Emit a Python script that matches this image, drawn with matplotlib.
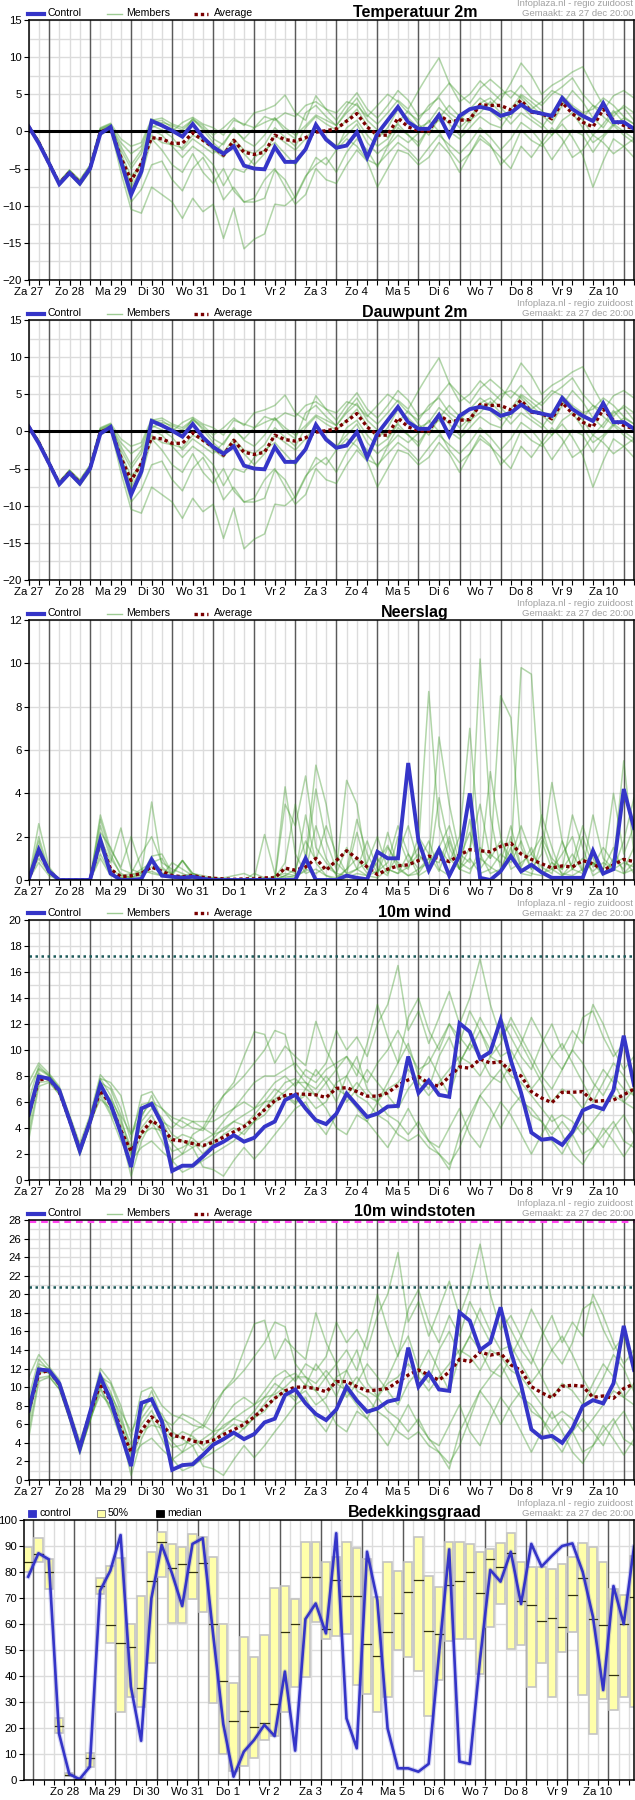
import numpy as np
import matplotlib
matplotlib.use('Agg')
import matplotlib.pyplot as plt
from matplotlib.lines import Line2D
from matplotlib.patches import Rectangle

plt.rcParams['font.family'] = ['Liberation Sans', 'DejaVu Sans']

W, H = 635, 1800

# ---- time axis (6-hourly steps, hours since 27 dec 00:00) ----
hours = 12 + 6 * np.arange(60)
day_labels = ['Za 27', 'Zo 28', 'Ma 29', 'Di 30', 'Wo 31', 'Do 1', 'Vr 2', 'Za 3',
              'Zo 4', 'Ma 5', 'Di 6', 'Wo 7', 'Do 8', 'Vr 9', 'Za 10']

# ---- Temperatuur 2m ----
temp_control = [0.7, -1.6, -4.3, -7.1, -5.6, -7.0, -5.0, -0.3, 0.6, -4.0, -8.5, -5.4, 1.4, 0.8, 0.1,
                -0.7, 1.0, -0.8, -2.1, -3.0, -2.0, -4.6, -5.0, -5.1, -2.1, -4.1, -4.1, -2.4, 0.9, -1.1,
                -2.2, -1.9, -0.1, -3.5, -0.3, 1.5, 3.3, 1.25, 0.35, 0.35, 2.2, -0.6, 2.1, 3.0, 3.3,
                3.0, 2.1, 2.5, 3.6, 2.7, 2.4, 2.1, 4.5, 3.0, 2.1, 1.4, 3.8, 1.25, 1.25, 0.35]
temp_average = [0.7, -1.5, -4.3, -7.0, -5.5, -6.9, -5.0, -0.1, 0.5, -3.5, -6.6, -4.3, -0.85, -1.0, -1.6,
                -1.6, -0.2, -1.2, -2.1, -3.2, -1.2, -2.8, -3.1, -2.8, -0.5, -1.1, -1.3, -0.85, -0.1, 0.1,
                0.35, 1.4, 2.4, 0.6, -0.5, -0.5, 1.8, 0.6, 0.1, 0.05, 2.2, 1.3, 1.5, 1.6, 3.6,
                3.5, 3.5, 2.9, 4.2, 2.6, 2.4, 1.7, 3.9, 2.4, 1.25, 0.6, 3.0, 1.5, 0.8, 0.35]
temp_members = [
    [0.8, -1.2, -4.2, -6.8, -5.3, -6.6, -4.6, 0.3, 0.9, -2.5, -5.0, -3.0, 0.5, 1.2, 0.8, 0.2, 1.5, 0.5, -1.0, -1.8, 0.5, -1.2, -2.0, -0.5, 1.8, 0.5, -0.5, 0.8, 2.2, 1.5, 0.8, 2.5, 3.8, 1.5, 0.2, -0.8, 1.2, 2.8, 1.0, -0.5, 1.8, 3.5, 2.0, 1.2, 3.8, 4.5, 3.2, 1.8, 4.8, 3.5, 2.2, 1.0, 3.5, 5.5, 4.0, 1.8, 0.5, 2.5, 3.2, 1.5],
    [0.6, -1.6, -4.5, -7.3, -5.8, -7.2, -5.3, -0.4, 0.5, -4.5, -9.5, -7.8, -4.5, -4.0, -6.5, -8.0, -5.0, -3.5, -5.8, -9.2, -7.5, -9.5, -9.5, -9.0, -5.2, -6.5, -9.0, -6.2, -3.5, -4.5, -2.5, -1.0, -2.0, -3.8, -4.5, -3.0, -1.5, -2.5, -4.0, -2.2, -0.5, -1.8, -3.0, -1.5, 0.5, -0.8, -2.5, -1.0, 1.2, 0.2, -1.5, -3.8, -1.8, 0.2, -0.5, -2.8, -0.8, 0.8, -0.5, -1.5],
    [0.7, -1.4, -4.3, -7.0, -5.5, -7.0, -5.2, -0.2, 0.4, -5.5, -10.5, -11.0, -7.5, -8.5, -9.5, -11.7, -9.0, -10.8, -9.8, -14.4, -10.3, -15.8, -14.5, -13.8, -9.8, -10.0, -8.8, -6.0, -4.5, -3.5, -5.5, -2.8, -1.0, -2.5, -4.8, -2.0, -0.5, -1.5, -0.2, 1.5, 0.0, -2.5, -4.2, -3.0, -0.5, -1.8, -4.5, -3.0, 0.2, -1.2, -2.0, -0.5, 1.0, -0.8, -3.2, -7.5, -4.0, -1.0, -2.0, -3.5],
    [0.8, -1.3, -4.0, -6.9, -5.2, -6.8, -4.8, 0.2, 0.8, -1.5, -3.0, -2.0, 1.5, 1.8, 1.0, 0.5, 1.6, 0.8, -0.5, 0.5, 1.8, 0.8, 2.5, 2.9, 3.5, 4.9, 2.5, 1.5, 4.8, 3.0, 1.5, 3.5, 5.2, 3.0, 1.8, 3.5, 5.5, 4.2, 2.0, 3.0, 4.8, 6.5, 5.0, 3.8, 5.8, 7.0, 5.8, 4.5, 6.2, 4.5, 3.5, 5.0, 6.0, 7.2, 5.0, 3.5, 2.8, 4.8, 5.5, 4.5],
    [0.7, -1.5, -4.4, -7.1, -5.6, -7.1, -5.1, 0.0, 0.6, -3.0, -6.0, -4.5, 0.8, 0.2, -0.8, -2.5, -1.0, -2.0, -3.0, -1.5, 0.2, -1.0, 0.5, 1.2, 1.8, 0.0, -1.0, 2.5, 3.5, 2.0, 0.8, 2.8, 4.5, 2.2, 1.0, 2.5, 4.2, 3.0, 5.5, 7.8, 9.9, 6.5, 4.0, 5.0, 6.8, 5.5, 4.2, 6.5, 9.2, 7.5, 5.0, 6.2, 7.0, 8.0, 8.7, 6.0, 3.5, 2.0, 3.5, 2.5],
    [0.7, -1.5, -4.3, -7.2, -5.6, -7.3, -5.4, -0.5, 0.3, -4.0, -8.0, -6.0, -1.0, -2.5, -4.5, -5.5, -3.0, -5.5, -7.0, -5.0, -8.0, -9.5, -9.0, -6.5, -5.0, -7.5, -9.8, -8.5, -5.0, -6.5, -7.0, -4.5, -2.5, -4.0, -7.5, -5.0, -2.5, -3.0, -4.5, -3.5, -1.5, -3.0, -5.5, -3.0, -1.0, -2.0, -3.5, -5.0, -2.0, -3.5, -1.5, 0.5, -1.0, -3.5, -2.5, -0.5, -1.5, -3.0, -2.0, -1.0],
    [0.8, -1.3, -4.1, -6.9, -5.4, -6.9, -5.0, 0.1, 0.7, -2.0, -4.5, -2.5, 1.2, 1.5, 0.5, -0.5, 1.8, 0.2, -1.5, -2.8, -1.0, -2.5, -3.0, -1.8, 0.5, -0.8, -2.0, 0.5, 2.0, 1.0, 0.2, 1.5, 3.0, 0.8, -1.0, 0.5, 3.0, 1.8, 0.5, 1.2, 3.2, 2.0, 0.5, 1.8, 3.8, 2.8, 1.5, 3.0, 5.0, 4.0, 2.8, 1.5, 4.0, 3.0, 1.8, 3.5, 2.0, 0.8, 1.8, 1.0],
    [0.7, -1.4, -4.2, -7.0, -5.4, -7.0, -4.9, 0.4, 1.0, -3.5, -7.5, -5.0, 0.2, -0.5, -2.0, -3.5, -2.0, -3.0, -4.5, -7.3, -5.0, -5.5, -3.5, -2.5, -1.5, -3.0, -4.5, -2.5, 0.5, -1.0, -2.5, 0.5, 1.5, -0.5, -2.0, -1.0, 1.0, -0.5, -2.0, 0.5, 2.5, 1.0, -0.5, 1.5, 2.5, 4.0, 2.5, 1.0, 2.5, 1.5, 0.5, 2.5, 4.5, 3.0, 1.5, -0.5, 1.0, 2.8, 1.2, 0.5],
    [0.8, -1.2, -4.1, -6.7, -5.2, -6.5, -4.5, 0.5, 1.1, -1.0, -2.0, -1.5, 1.7, 1.0, 0.0, 1.2, 1.9, 1.0, 0.5, -0.5, 1.5, 1.0, 0.5, 2.0, 1.5, 2.5, 2.0, 3.5, 4.0, 3.0, 2.5, 4.0, 3.5, 2.0, 3.5, 5.0, 4.0, 2.5, 1.5, 3.5, 4.5, 2.5, 1.5, 3.0, 4.5, 3.5, 5.0, 5.5, 4.5, 3.0, 4.0, 5.5, 4.8, 3.5, 2.5, 3.0, 4.5, 3.5, 2.0, 1.0],
    [0.7, -1.5, -4.4, -7.1, -5.6, -7.0, -5.1, -0.1, 0.5, -3.5, -7.0, -4.0, -0.5, -1.5, -1.8, -2.2, -0.5, -1.2, -2.5, -3.5, -1.5, -3.0, -4.5, -3.0, -0.5, -1.5, -2.5, -1.0, 0.8, -0.8, -2.0, -0.5, 1.0, -1.5, -3.0, -1.8, 0.5, -0.5, -1.5, 0.5, 1.5, 0.0, -1.0, 0.5, 2.0, 1.0, 0.5, 2.5, 3.5, 2.0, 1.0, -0.5, 1.5, 2.5, 0.5, -1.5, -0.5, 1.0, 0.0, -1.0],
]

# ---- Dauwpunt 2m (reads the same as the temperature plot) ----
dauw_control = list(temp_control)
dauw_average = list(temp_average)
dauw_members = [list(m) for m in temp_members]

# ---- Neerslag ----
rain_control = [0, 1.4, 0.4, 0, 0, 0, 0, 1.85, 0.3, 0, 0, 0.05, 0.95, 0.2, 0.15, 0.1, 0.15, 0.05, 0, 0,
                0, 0, 0, 0, 0, 0, 0, 1.0, 0, 0, 0, 0.2, 0.1, 0.03, 1.3, 1.0, 1.0, 5.4, 1.8, 0.45,
                1.4, 0.2, 1.15, 4.0, 0.1, 0, 0.4, 1.1, 0.4, 0.7, 0.35, 0.1, 0.1, 0.1, 0.1, 1.35, 0.3, 0.5, 4.2, 2.4]
rain_average = [0, 1.35, 0.4, 0, 0, 0, 0, 1.8, 0.5, 0.15, 0.2, 0.3, 0.6, 0.4, 0.2, 0.15, 0.2, 0.12, 0.08, 0.05,
                0.03, 0.05, 0.05, 0.1, 0.1, 0.55, 0.45, 0.6, 1.0, 0.45, 0.9, 1.35, 1.0, 0.6, 0.25, 0.5, 0.65, 0.7, 0.9, 1.1,
                1.0, 0.85, 1.15, 1.4, 1.35, 1.3, 1.55, 1.7, 1.2, 0.95, 0.75, 0.55, 0.65, 0.6, 0.9, 0.75, 0.45, 0.7, 0.95, 0.85]
rain_members = [
    [0, 1.2, 0.5, 0, 0, 0, 0, 1.5, 0.5, 0.2, 0.1, 0.4, 0.6, 0.3, 0.2, 0.1, 0.1, 0.1, 0.1, 0, 0, 0, 0, 0, 0, 0.2, 0.5, 1.8, 0.9, 2.5, 1.2, 0.3, 0.5, 1.8, 0.5, 0.2, 2.0, 0.8, 1.5, 8.7, 2.5, 1.0, 0.5, 2.8, 0.5, 1.2, 0.8, 2.5, 0.6, 1.5, 0.3, 0.5, 1.2, 2.0, 0.4, 0.8, 0.2, 1.0, 0.5, 1.5],
    [0, 1.8, 0.3, 0, 0, 0, 0, 2.5, 1.0, 0.3, 0.1, 0.2, 0.8, 0.5, 0.3, 0.9, 0.2, 0, 0, 0, 0, 0, 0, 0.1, 0, 4.3, 1.2, 0.3, 0.5, 0.2, 0, 0.5, 2.8, 1.2, 0.3, 2.2, 0.6, 0.2, 0.5, 1.0, 6.6, 3.5, 1.2, 0.8, 10.2, 3.0, 0.5, 1.5, 0.3, 0.2, 1.8, 0.5, 0.2, 0.8, 2.5, 1.0, 0.3, 0.8, 5.5, 1.2],
    [0, 1.5, 0.4, 0, 0, 0, 0, 2.0, 0.8, 2.4, 0.5, 0.3, 3.6, 0.6, 0.2, 0.2, 0.1, 0, 0, 0, 0, 0, 0.3, 0.1, 0, 3.5, 2.5, 4.8, 1.5, 0.8, 0.3, 1.5, 0.5, 0.2, 0.4, 0.8, 2.5, 1.2, 0.2, 0.5, 1.5, 0.8, 2.0, 7.0, 1.2, 0.3, 0.5, 1.0, 9.8, 9.5, 2.5, 0.8, 0.3, 0.2, 0.5, 3.0, 1.0, 0.5, 0.3, 0.8],
    [0, 2.6, 0.6, 0, 0, 0, 0, 3.0, 1.4, 0.6, 2.0, 0.5, 0.8, 1.0, 0.2, 0.9, 0.3, 0.1, 0, 0, 0, 0, 0, 0, 0.1, 0.8, 3.5, 1.0, 5.3, 3.5, 0.8, 0.3, 2.2, 0.5, 0.3, 1.5, 0.8, 0.5, 2.0, 1.2, 0.4, 1.8, 0.5, 1.5, 3.5, 1.0, 8.5, 7.5, 1.5, 0.5, 1.2, 4.5, 1.8, 0.5, 2.0, 0.6, 1.5, 0.8, 1.0, 0.3],
    [0, 1.0, 0.3, 0, 0, 0, 0, 1.2, 0.3, 0.1, 0.2, 0.5, 0.3, 0.2, 0.1, 0.2, 0.3, 0.2, 0.1, 0.1, 0.2, 0.3, 0.1, 2.1, 0.3, 0.1, 0.2, 0.8, 4.2, 1.8, 0.5, 4.6, 3.5, 0.5, 1.0, 0.3, 1.2, 2.5, 0.8, 1.8, 0.5, 0.2, 1.0, 2.2, 0.6, 5.0, 2.0, 0.5, 0.8, 1.2, 2.0, 1.0, 0.5, 3.0, 1.5, 0.2, 0.5, 4.0, 1.2, 2.5],
    [0, 0.8, 0.2, 0, 0, 0, 0, 1.0, 0.2, 0.1, 0.1, 0.3, 0.4, 0.2, 0.8, 0.5, 0.2, 0.1, 0, 0, 0, 0, 0, 0, 0, 0.5, 0.3, 3.0, 0.8, 0.2, 0.1, 0.5, 1.0, 0.3, 0.8, 1.6, 0.5, 0.2, 0.3, 1.0, 0.8, 2.0, 0.5, 0.3, 1.5, 1.0, 1.8, 1.0, 2.5, 1.2, 0.6, 0.3, 1.8, 0.5, 0.3, 0.8, 0.5, 1.5, 0.3, 0.5],
    [0, 1.4, 0.5, 0, 0, 0, 0, 2.2, 1.5, 0.5, 0.3, 1.2, 2.0, 0.8, 0.5, 0.3, 0.1, 0, 0, 0, 0, 0, 0, 0, 0.2, 0.3, 0.2, 0.4, 2.5, 1.0, 0.2, 0.1, 0.3, 0.2, 0.1, 0.5, 0.3, 0.6, 1.2, 0.5, 3.8, 1.5, 0.5, 1.0, 0.3, 0.5, 1.2, 0.8, 1.8, 0.5, 3.0, 1.5, 0.2, 0.5, 1.0, 0.4, 0.8, 0.5, 1.8, 3.8],
    [0, 2.0, 0.4, 0, 0, 0, 0, 2.8, 1.2, 0.2, 0.3, 0.2, 1.1, 1.2, 0.3, 0.9, 0.3, 0.1, 0, 0, 0, 0, 0, 0, 0, 0.2, 0.1, 0.5, 0.3, 0.6, 0.3, 0.2, 0.5, 0.8, 2.0, 0.5, 0.3, 1.2, 0.5, 0.8, 1.5, 2.5, 0.8, 0.5, 1.0, 0.6, 0.3, 2.0, 0.5, 0.3, 0.2, 0.8, 0.5, 1.2, 0.4, 0.8, 0.3, 0.5, 0.8, 0.6],
]

# ---- 10m wind ----
wind_control = [5.0, 7.95, 7.8, 6.9, 4.6, 2.25, 4.5, 7.35, 5.85, 3.6, 1.0, 5.5, 5.85, 4.3, 0.7, 1.1, 1.1, 1.8, 2.55, 2.95,
                3.45, 2.95, 3.25, 4.1, 4.5, 6.15, 6.55, 5.5, 4.6, 4.3, 5.1, 6.65, 5.75, 4.85, 5.1, 5.65, 5.7, 9.5, 6.7, 7.65,
                6.55, 6.4, 12.05, 11.4, 9.35, 9.85, 12.3, 9.2, 6.7, 3.65, 3.1, 3.2, 2.7, 3.7, 5.35, 5.7, 5.45, 6.9, 11.1, 7.3]
wind_average = [5.0, 7.7, 7.8, 6.8, 4.6, 2.3, 4.5, 6.9, 5.8, 3.8, 2.2, 3.6, 4.6, 4.0, 3.1, 3.0, 2.8, 2.65, 2.9, 3.3,
                3.7, 4.1, 4.7, 5.4, 6.1, 6.5, 6.6, 6.6, 6.55, 6.35, 7.05, 7.1, 6.8, 6.45, 6.45, 6.7, 7.3, 7.7, 7.95, 7.45,
                7.2, 7.95, 8.7, 8.6, 9.3, 9.0, 9.1, 8.35, 8.0, 6.8, 6.3, 5.95, 6.75, 6.75, 6.8, 6.05, 6.1, 6.15, 6.55, 7.0]
wind_members = [
    [4.0, 8.5, 8.0, 7.0, 4.8, 2.5, 4.6, 7.8, 6.5, 4.5, 2.5, 4.0, 5.0, 3.5, 2.2, 2.5, 3.0, 2.0, 2.8, 3.5, 4.0, 3.5, 4.5, 5.5, 6.5, 7.5, 7.8, 7.0, 8.5, 7.5, 6.0, 8.0, 9.5, 7.0, 6.0, 7.5, 9.0, 10.5, 8.0, 7.0, 9.5, 11.0, 9.0, 10.5, 12.5, 11.0, 9.5, 10.0, 8.5, 7.0, 8.0, 9.5, 10.5, 9.0, 7.5, 6.0, 7.5, 9.0, 8.0, 6.5],
    [3.5, 7.5, 7.6, 6.6, 4.4, 2.1, 4.2, 6.5, 5.0, 3.0, 1.5, 2.5, 3.0, 2.2, 1.5, 0.6, 1.0, 1.5, 2.0, 2.5, 3.0, 3.8, 4.5, 5.0, 6.0, 6.5, 5.8, 7.0, 6.5, 5.5, 4.0, 3.5, 5.0, 4.5, 3.5, 2.5, 4.0, 5.5, 4.0, 3.0, 2.0, 0.8, 3.5, 5.0, 6.5, 5.5, 4.0, 5.5, 6.5, 5.0, 4.5, 3.0, 2.0, 3.5, 4.5, 3.5, 2.5, 4.0, 5.0, 3.5],
    [7.5, 9.0, 8.2, 7.2, 5.0, 2.8, 5.0, 8.1, 7.2, 5.5, 3.0, 6.5, 6.8, 5.5, 4.8, 4.5, 4.0, 3.8, 5.0, 6.5, 7.5, 9.5, 11.4, 11.2, 9.0, 10.3, 9.5, 8.8, 12.2, 10.0, 8.5, 9.5, 8.0, 10.5, 13.5, 11.0, 9.0, 12.5, 14.0, 11.5, 10.0, 12.0, 10.5, 13.0, 11.5, 10.0, 12.5, 11.0, 9.5, 8.5, 10.5, 12.0, 10.0, 11.5, 10.5, 13.5, 12.0, 10.0, 8.5, 9.5],
    [5.5, 8.2, 7.7, 6.8, 4.7, 2.0, 4.4, 7.0, 6.0, 4.2, 1.8, 4.5, 5.5, 4.8, 3.5, 3.0, 2.5, 3.0, 3.5, 4.5, 5.5, 6.0, 5.5, 6.5, 7.5, 8.0, 7.2, 8.5, 8.0, 9.0, 11.5, 10.0, 11.0, 9.5, 12.0, 13.5, 16.5, 11.5, 13.0, 10.5, 12.5, 14.5, 12.0, 14.0, 17.0, 13.5, 11.0, 12.0, 10.5, 12.5, 11.0, 9.5, 8.5, 10.0, 12.5, 13.0, 11.0, 9.5, 10.5, 8.0],
    [6.0, 8.8, 8.0, 7.0, 4.9, 2.4, 4.8, 7.5, 7.0, 5.0, 3.5, 5.0, 6.0, 4.5, 4.0, 4.8, 4.5, 4.0, 5.5, 6.5, 7.2, 8.0, 9.0, 10.0, 11.5, 11.2, 8.5, 7.5, 6.5, 7.5, 8.5, 6.0, 7.0, 8.5, 7.5, 6.5, 5.5, 7.0, 8.0, 9.5, 8.0, 6.5, 9.0, 10.5, 9.5, 8.0, 7.5, 9.0, 10.5, 9.0, 7.5, 6.0, 7.0, 6.5, 5.5, 7.0, 8.5, 7.5, 6.0, 7.0],
    [4.5, 7.8, 7.9, 6.9, 4.6, 2.2, 4.5, 6.2, 5.5, 3.5, 0.3, 3.0, 4.5, 3.0, 1.5, 2.0, 2.5, 1.0, 0.8, 0.3, 1.5, 2.5, 1.6, 2.5, 3.5, 4.5, 5.5, 6.0, 4.5, 3.5, 5.0, 6.5, 5.5, 4.5, 6.0, 5.0, 4.5, 3.5, 4.5, 3.0, 2.5, 4.0, 5.5, 3.5, 2.5, 4.5, 6.0, 5.0, 3.5, 2.0, 3.5, 5.0, 3.5, 2.0, 1.2, 2.5, 4.0, 3.0, 1.8, 3.0],
    [5.0, 8.0, 7.8, 6.9, 4.6, 2.0, 4.6, 7.2, 6.2, 4.8, 2.0, 4.8, 6.5, 4.5, 3.0, 3.5, 3.2, 2.5, 3.2, 4.0, 4.5, 5.0, 5.5, 6.0, 6.2, 6.8, 7.5, 7.5, 7.0, 8.0, 7.0, 6.5, 7.5, 6.5, 6.0, 7.0, 7.5, 8.5, 7.5, 6.5, 7.5, 8.5, 9.5, 9.0, 8.0, 9.5, 9.0, 8.0, 7.5, 6.5, 5.5, 4.5, 5.0, 4.5, 3.5, 4.5, 5.5, 6.5, 6.0, 5.5],
    [3.0, 7.2, 7.5, 6.6, 4.4, 1.9, 4.3, 6.8, 5.2, 3.8, 1.2, 3.5, 4.0, 3.8, 2.8, 2.0, 3.5, 4.0, 3.5, 3.8, 4.5, 4.2, 5.0, 6.0, 7.0, 6.5, 6.0, 6.5, 5.5, 6.0, 7.5, 8.0, 6.5, 6.0, 5.0, 4.5, 3.5, 3.0, 3.5, 2.5, 2.0, 1.2, 2.5, 4.5, 6.5, 7.5, 8.5, 7.0, 6.0, 5.5, 4.5, 3.5, 4.5, 3.5, 2.0, 2.5, 3.5, 4.5, 3.0, 2.5],
    [7.0, 8.6, 8.1, 7.1, 4.8, 2.6, 4.7, 7.8, 7.5, 6.5, 3.5, 5.8, 6.0, 5.5, 4.5, 4.0, 4.5, 4.5, 4.5, 5.0, 5.5, 6.5, 7.5, 8.0, 8.0, 8.5, 9.0, 8.0, 7.5, 8.5, 9.0, 9.5, 8.5, 7.5, 9.0, 10.0, 11.5, 10.0, 8.5, 9.0, 10.5, 12.0, 11.0, 10.0, 11.5, 9.5, 10.5, 12.5, 11.0, 9.5, 8.0, 7.0, 8.5, 10.0, 9.0, 7.5, 6.5, 8.0, 7.0, 6.5],
]

# ---- 10m windstoten ----
gust_control = [7.45, 11.9, 11.8, 10.4, 7.0, 3.4, 7.3, 11.1, 8.6, 5.0, 1.5, 8.3, 8.7, 6.3, 1.1, 1.6, 1.7, 2.7, 3.8, 4.4,
                5.1, 4.4, 4.95, 6.2, 6.6, 9.15, 9.75, 8.25, 7.1, 6.45, 7.6, 10.05, 8.55, 7.35, 7.7, 8.45, 8.7, 14.25, 10.05, 11.5,
                9.75, 9.6, 18.05, 17.15, 14.0, 14.8, 18.6, 13.8, 10.2, 5.45, 4.55, 4.75, 4.0, 5.55, 7.95, 8.6, 8.25, 10.4, 16.6, 11.85]
gust_average = [7.4, 11.5, 11.8, 10.3, 7.0, 3.5, 7.2, 10.4, 8.5, 5.5, 3.0, 5.3, 6.8, 5.9, 4.8, 4.6, 4.2, 4.0, 4.3, 4.9,
                5.4, 6.0, 6.8, 7.8, 8.8, 9.6, 10.0, 10.0, 9.85, 9.5, 10.6, 10.6, 10.05, 9.6, 9.7, 9.85, 10.6, 11.3, 11.85, 11.3,
                10.75, 11.65, 13.0, 12.75, 13.8, 13.45, 13.65, 12.4, 11.8, 10.05, 9.4, 8.85, 10.1, 10.2, 10.1, 8.9, 9.05, 8.8, 9.85, 10.35]
gust_members = [
    [6.0, 12.5, 12.0, 10.5, 7.2, 3.8, 7.0, 11.5, 9.5, 6.5, 3.8, 6.0, 7.5, 5.2, 3.5, 3.8, 4.5, 3.2, 4.2, 5.2, 6.0, 5.5, 6.8, 8.2, 9.5, 11.0, 11.5, 10.2, 12.5, 11.0, 9.0, 11.8, 14.0, 10.5, 9.0, 11.0, 13.5, 15.5, 12.0, 10.5, 14.0, 16.0, 13.5, 15.5, 18.5, 16.0, 14.0, 14.5, 12.5, 10.5, 12.0, 14.0, 15.5, 13.5, 11.0, 9.0, 11.0, 13.5, 12.0, 9.5],
    [5.2, 11.0, 11.2, 9.8, 6.6, 3.2, 6.3, 9.8, 7.5, 4.5, 2.4, 3.8, 4.5, 3.3, 2.3, 1.0, 1.5, 2.3, 3.0, 3.7, 4.5, 5.6, 6.7, 7.4, 8.8, 9.6, 8.5, 10.3, 9.6, 8.1, 6.0, 5.2, 7.4, 6.6, 5.2, 3.7, 6.0, 8.1, 6.0, 4.5, 3.0, 1.2, 5.2, 7.4, 9.6, 8.1, 6.0, 8.1, 9.6, 7.4, 6.6, 4.5, 3.0, 5.2, 6.6, 5.2, 3.7, 6.0, 7.4, 5.2],
    [11.0, 13.5, 12.2, 10.8, 7.5, 4.2, 7.5, 12.0, 10.6, 8.0, 4.5, 9.5, 10.0, 8.0, 7.0, 6.6, 5.9, 5.6, 7.4, 9.6, 11.0, 14.0, 16.8, 17.2, 13.0, 15.2, 14.0, 13.0, 18.0, 14.8, 12.5, 14.0, 11.8, 15.5, 20.0, 16.2, 13.3, 18.4, 20.5, 17.0, 14.8, 17.7, 15.5, 19.2, 17.0, 14.8, 18.4, 16.2, 14.0, 12.5, 15.5, 17.7, 14.8, 17.0, 15.5, 20.0, 17.7, 14.8, 12.5, 14.0],
    [8.0, 12.2, 11.5, 10.1, 7.0, 3.0, 6.5, 10.4, 8.9, 6.2, 2.7, 6.6, 8.1, 7.1, 5.2, 4.4, 3.7, 4.4, 5.2, 6.6, 8.1, 8.9, 8.1, 9.6, 11.1, 11.8, 10.6, 12.5, 11.8, 13.3, 17.0, 14.8, 16.2, 14.0, 17.7, 20.0, 24.5, 17.0, 19.2, 15.5, 18.4, 21.4, 17.7, 20.7, 25.4, 20.0, 16.2, 17.7, 15.5, 18.4, 16.2, 14.0, 12.5, 14.8, 18.4, 19.2, 16.2, 14.0, 15.5, 11.8],
    [8.8, 13.0, 11.8, 10.4, 7.2, 3.5, 7.1, 11.1, 10.4, 7.4, 5.2, 7.4, 8.9, 6.6, 5.9, 7.1, 6.6, 5.9, 8.1, 9.6, 10.6, 11.8, 13.3, 14.8, 17.0, 16.5, 12.5, 11.1, 9.6, 11.1, 12.5, 8.9, 10.4, 12.5, 11.1, 9.6, 8.1, 10.4, 11.8, 14.0, 11.8, 9.6, 13.3, 15.5, 14.0, 11.8, 11.1, 13.3, 15.5, 13.3, 11.1, 8.9, 10.4, 9.6, 8.1, 10.4, 12.5, 11.1, 8.9, 10.4],
    [6.6, 11.5, 11.7, 10.2, 6.8, 3.2, 6.6, 9.2, 8.1, 5.2, 0.5, 4.4, 6.6, 4.4, 2.2, 3.0, 3.7, 1.5, 1.2, 0.5, 2.2, 3.7, 2.4, 3.7, 5.2, 6.6, 8.1, 8.9, 6.6, 5.2, 7.4, 9.6, 8.1, 6.6, 8.9, 7.4, 6.6, 5.2, 6.6, 4.4, 3.7, 5.9, 8.1, 5.2, 3.7, 6.6, 8.9, 7.4, 5.2, 3.0, 5.2, 7.4, 5.2, 3.0, 1.8, 3.7, 5.9, 4.4, 2.7, 4.4],
    [7.4, 11.8, 11.5, 10.2, 6.8, 3.0, 6.8, 10.6, 9.2, 7.1, 3.0, 7.1, 9.6, 6.6, 4.4, 5.2, 4.7, 3.7, 4.7, 5.9, 6.6, 7.4, 8.1, 8.9, 9.2, 10.0, 11.1, 11.1, 10.4, 11.8, 10.4, 9.6, 11.1, 9.6, 8.9, 10.4, 11.1, 12.5, 11.1, 9.6, 11.1, 12.5, 14.0, 13.3, 11.8, 14.0, 13.3, 11.8, 11.1, 9.6, 8.1, 6.6, 7.4, 6.6, 5.2, 6.6, 8.1, 9.6, 8.9, 8.1],
    [4.4, 10.6, 11.1, 9.8, 6.5, 2.8, 6.4, 10.0, 7.7, 5.6, 1.8, 5.2, 5.9, 5.6, 4.1, 3.0, 5.2, 5.9, 5.2, 5.6, 6.6, 6.2, 7.4, 8.9, 10.4, 9.6, 8.9, 9.6, 8.1, 8.9, 11.1, 11.8, 9.6, 8.9, 7.4, 6.6, 5.2, 4.4, 5.2, 3.7, 3.0, 1.8, 3.7, 6.6, 9.6, 11.1, 12.5, 10.4, 8.9, 8.1, 6.6, 5.2, 6.6, 5.2, 3.0, 3.7, 5.2, 6.6, 4.4, 3.7],
]

# ---- Bedekkingsgraad ----
cloud_control = [78.2, 87.2, 84.9, 17.9, 2.3, 0.3, 5.1, 72.8, 80.5, 94.2, 35.9, 15.1, 69.9, 90.4, 79.5,
                 66.9, 90.8, 93.0, 56.4, 21.5, 1.3, 10.9, 15.4, 21.2, 16.9, 41.7, 11.3, 61.9, 67.9, 56.4,
                 94.9, 23.7, 12.2, 87.8, 69.2, 19.9, 4.5, 4.5, 3.2, 6.2, 48.1, 88.7, 7.1, 6.2, 46.2,
                 80.8, 76.3, 87.8, 67.7, 90.8, 82.1, 86.2, 90.0, 91.0, 80.1, 62.8, 34.6, 74.6, 60.0, 89.7]
cloud_p75 = [89.7, 93.0, 84.9, 23.7, 2.8, 0.8, 10.3, 77.6, 82.4, 85.3, 59.9, 70.9, 87.8, 95.5, 90.8,
             89.7, 94.5, 93.6, 85.9, 59.9, 37.2, 55.1, 47.2, 55.9, 74.0, 74.7, 69.5, 91.7, 91.7, 84.0,
             85.9, 91.7, 89.1, 84.9, 70.3, 84.0, 80.5, 83.7, 93.6, 78.6, 74.4, 91.7, 91.7, 90.6, 87.8,
             88.7, 91.0, 94.9, 84.0, 82.0, 81.8, 81.0, 82.9, 85.9, 91.0, 89.5, 83.7, 73.3, 71.2, 86.2]
cloud_p25 = [80.1, 84.0, 73.3, 18.0, 1.5, 0.0, 5.1, 71.4, 52.6, 26.0, 31.8, 27.9, 44.9, 77.9, 60.3,
             60.5, 69.5, 64.7, 29.5, 9.9, 3.6, 5.5, 8.3, 15.4, 17.1, 26.0, 35.9, 39.7, 60.9, 54.2,
             55.4, 56.0, 36.5, 33.1, 26.2, 31.8, 50.0, 47.2, 41.9, 24.6, 38.5, 53.5, 54.2, 54.2, 40.8,
             58.7, 67.7, 50.4, 51.9, 35.6, 44.9, 31.8, 49.1, 56.8, 32.7, 17.6, 31.0, 26.9, 31.8, 27.9]
cloud_median = [84.0, 86.8, 80.1, 20.9, 1.9, 0.4, 8.3, 74.7, 59.6, 52.6, 51.0, 35.3, 76.7, 91.7, 81.4,
                82.9, 80.1, 83.3, 59.9, 38.2, 22.8, 26.7, 20.5, 21.8, 29.1, 57.1, 60.0, 77.9, 77.9, 57.9,
                76.9, 70.8, 70.8, 52.2, 47.7, 56.8, 64.1, 72.3, 76.8, 57.2, 56.0, 74.9, 76.5, 80.0, 71.8,
                85.0, 81.8, 87.2, 68.8, 67.2, 61.0, 62.2, 58.7, 71.0, 77.6, 61.9, 59.5, 40.4, 60.0, 70.3]

# ---- styles ----
BLUE = '#3535c8'
RED = '#7a0000'
GREEN = '#3f9a2a'
LIGHT = '#dcdcdc'
DARK = '#5a5a5a'


def px(x, y):
    return x / W, 1 - y / H


def header(fig, top, title, cloud=False):
    fig.text(*px(415, top + 12), title, ha='center', va='center', fontsize=11.5, fontweight='bold',
             family=['Liberation Sans Narrow', 'Liberation Sans', 'DejaVu Sans'])
    fig.text(*px(633, top + 4), 'Infoplaza.nl - regio zuidoost', ha='right', va='center',
             fontsize=6.8, color='#a0a0a0')
    fig.text(*px(633, top + 13.5), 'Gemaakt: za 27 dec 20:00', ha='right', va='center',
             fontsize=6.8, color='#a0a0a0')
    ly = 1 - (top + 13.5) / H
    if not cloud:
        fig.add_artist(Line2D([28 / W, 44 / W], [ly, ly], color=BLUE, lw=3))
        fig.text(48 / W, ly, 'Control', va='center', fontsize=7.6)
        fig.add_artist(Line2D([107 / W, 122 / W], [ly, ly], color=GREEN, lw=1, alpha=0.5))
        fig.text(126 / W, ly, 'Members', va='center', fontsize=7.6)
        fig.add_artist(Line2D([194 / W, 208 / W], [ly, ly], color=RED, lw=2.4, dashes=(1, 0.9)))
        fig.text(214 / W, ly, 'Average', va='center', fontsize=7.6)
    else:
        s = 7.5
        for x0, fc, ec, lab in [(28, BLUE, BLUE, 'control'), (97, '#ffffaa', '#707070', '50%'),
                                (156, 'black', 'black', 'median')]:
            fig.add_artist(Rectangle((x0 / W, ly - s / 2 / H), s / W, s / H, facecolor=fc,
                                     edgecolor=ec, lw=0.6, transform=fig.transFigure))
            fig.text((x0 + s + 3.5) / W, ly, lab, va='center', fontsize=7.6)


def frame(ax, x0, day_lines, grid_x, ylim, ymajor, ygrid, label_pos):
    ax.set_xlim(x0, 366)
    ax.set_ylim(*ylim)
    for g in ygrid:
        ax.axhline(g, color=LIGHT, lw=1, zorder=0)
    for g in grid_x:
        ax.axvline(g, color=LIGHT, lw=1, zorder=0)
    for d in day_lines:
        ax.axvline(d, color=DARK, lw=1, zorder=1)
    ax.set_yticks(ymajor)
    ax.set_xticks(label_pos)
    ax.set_xticklabels(day_labels[-len(label_pos):])
    ax.set_xticks(grid_x, minor=True)
    ax.xaxis.remove_overlapping_locs = False
    ax.tick_params(axis='both', which='both', direction='out', length=3.5, width=0.8,
                   labelsize=8.2, pad=1.5)
    for s in ax.spines.values():
        s.set_linewidth(1.1)
        s.set_zorder(5)


fig = plt.figure(figsize=(W / 100, H / 100), dpi=100)
fig.patch.set_facecolor('white')

panels = [
    ('Temperatuur 2m', temp_control, temp_average, temp_members, (-20, 15), np.arange(-20, 16, 5), np.arange(-20, 15.1, 2.5)),
    ('Dauwpunt 2m', dauw_control, dauw_average, dauw_members, (-20, 15), np.arange(-20, 16, 5), np.arange(-20, 15.1, 2.5)),
    ('Neerslag', rain_control, rain_average, rain_members, (0, 12), np.arange(0, 13, 2), np.arange(0, 12.1, 2)),
    ('10m wind', wind_control, wind_average, wind_members, (0, 20), np.arange(0, 21, 2), np.arange(0, 20.1, 1)),
    ('10m windstoten', gust_control, gust_average, gust_members, (0, 28), np.arange(0, 29, 2), np.arange(0, 28.1, 1)),
]

left_px, right_px = 28.5, 634
for i, (title, ctrl, avg, mem, ylim, ymaj, ygrid) in enumerate(panels):
    top = 300 * i
    ax = fig.add_axes([left_px / W, 1 - (top + 280) / H, (right_px - left_px) / W, 260 / H])
    frame(ax, 12, np.arange(24, 361, 24), np.arange(12, 367, 6), ylim, ymaj, ygrid,
          np.arange(12, 360, 24))
    for m in mem:
        ax.plot(hours, m, color=GREEN, lw=1.1, alpha=0.4, zorder=2)
    if i < 2:
        ax.axhline(0, color='black', lw=2.2, zorder=3)
    if title == '10m wind':
        ax.axhline(17.2, color='#1d5a5a', lw=1.8, ls=(0, (1, 1.4)), zorder=3)
    if title == '10m windstoten':
        ax.axhline(20.8, color='#1d5a5a', lw=1.8, ls=(0, (1, 1.4)), zorder=3)
        ax.axhline(27.85, color='#ff44ee', lw=2.2, ls=(0, (2.2, 1.6)), zorder=3, clip_on=False)
    ax.plot(hours, avg, color=RED, lw=2.4, dashes=(1, 0.9), zorder=4)
    ax.plot(hours, ctrl, color=BLUE, lw=2.8, zorder=4, solid_joinstyle='miter')
    header(fig, top, title)

# ---- cloud panel ----
top = 1500
ax = fig.add_axes([24 / W, 1 - (top + 280) / H, (right_px - 24) / W, 260 / H])
frame(ax, 9.55, np.arange(15, 352, 24), np.arange(15, 366, 6), (0, 100), np.arange(0, 101, 10),
      np.arange(0, 101, 10), np.arange(33, 346, 24))
bw = 4.9
for h, lo, hi, med in zip(hours, cloud_p25, cloud_p75, cloud_median):
    ax.add_patch(Rectangle((h - bw / 2, lo), bw, max(hi - lo, 0.4), facecolor='#ffffaa',
                           edgecolor='#c4c4c4', lw=1.2, zorder=2))
    ax.plot([h - bw / 2, h + bw / 2], [med, med], color='#333310', lw=0.9, zorder=3)
ax.plot(hours, cloud_control, color=BLUE, lw=3.5, alpha=0.2, zorder=4)
ax.plot(hours, cloud_control, color=BLUE, lw=1.9, zorder=4)
header(fig, top, 'Bedekkingsgraad', cloud=True)

fig.savefig('out.png', dpi=100)
